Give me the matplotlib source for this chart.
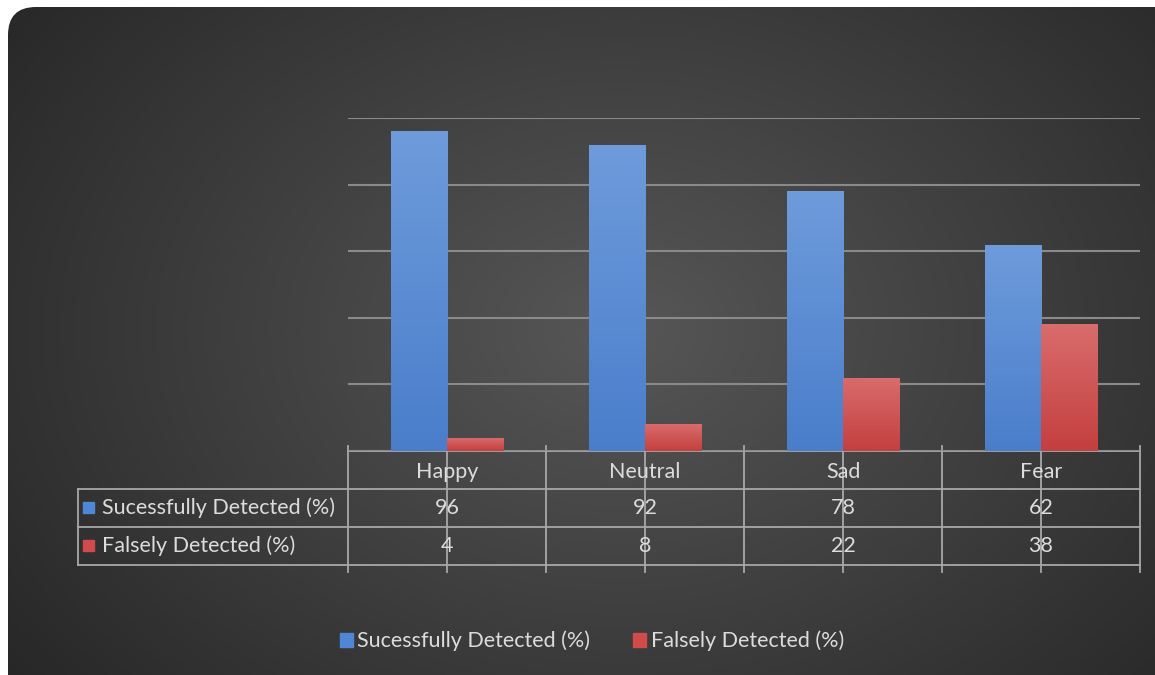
import numpy as np
import matplotlib.pyplot as plt
import matplotlib.patches as patches

categories = ['Happy', 'Neutral', 'Sad', 'Fear']
success = [96, 92, 78, 62]
false_det = [4, 8, 22, 38]
series_names = ['Sucessfully Detected (%)', 'Falsely Detected (%)']

W, H = 1155, 675
plt.rcParams['font.family'] = ['Lato', 'DejaVu Sans']
txt_color = '#dcdcdc'
fs = 15.5
fig = plt.figure(figsize=(W / 100, H / 100), dpi=100, facecolor='white')

# full-figure pixel axes for the background and the data table
bg = fig.add_axes([0, 0, 1, 1])
bg.set_xlim(0, W)
bg.set_ylim(H, 0)
bg.axis('off')

panel = patches.FancyBboxPatch((8, 7), W - 8 + 30, H - 7 + 30,
                               boxstyle='round,pad=0,rounding_size=28',
                               facecolor='none', edgecolor='none')
bg.add_patch(panel)
yy, xx = np.mgrid[0:H, 0:W]
r = np.sqrt(((xx - 620) / 700) ** 2 + ((yy - 330) / 520) ** 2)
shade = np.clip(0.34 - 0.17 * r, 0.15, 0.34)
img = bg.imshow(np.dstack([shade] * 3), extent=(0, W, H, 0), zorder=0)
img.set_clip_path(panel)

# bar chart
ax = fig.add_axes([348 / W, (H - 451) / H, (1140 - 348) / W, (451 - 118) / H])
ax.set_facecolor('none')
x = np.arange(len(categories))
bw = 0.283
for v in range(0, 101, 20):
    ax.axhline(v, color='#8a8a8a', lw=1.5, zorder=1)


def grad_bars(xs, vals, top, bottom):
    bars = ax.bar(xs, vals, bw, align='edge', color='none', zorder=2)
    grad = np.linspace(0, 1, 256).reshape(-1, 1)
    cmap = plt.matplotlib.colors.LinearSegmentedColormap.from_list('g', [bottom, top])
    for b in bars:
        x0, y0 = b.get_x(), b.get_y()
        im = ax.imshow(grad, cmap=cmap, origin='lower', aspect='auto',
                       extent=(x0, x0 + b.get_width(), y0, y0 + b.get_height()), zorder=2)
        im.set_clip_path(b)
    return bars


grad_bars(x - bw, success, '#6e9bdb', '#4a7ecb')
grad_bars(x, false_det, '#d96c6c', '#c43f3f')
ax.set_xlim(-0.5, len(categories) - 0.5)
ax.set_ylim(0, 100)
for s in ax.spines.values():
    s.set_visible(False)
ax.set_xticks([])
ax.set_yticks([])

# data table
line_c = '#a8a8a8'
col_x = [348 + 198 * i for i in range(len(categories) + 1)]
row_y = [451, 489, 527, 565]
lw = 1.3
bg.plot([col_x[0], col_x[-1]], [row_y[0], row_y[0]], color=line_c, lw=lw, zorder=3)
for yv in row_y[1:]:
    bg.plot([78, col_x[-1]], [yv, yv], color=line_c, lw=lw, zorder=3)
bg.plot([78, 78], [row_y[1], row_y[-1]], color=line_c, lw=lw, zorder=3)
for xv in col_x:
    bg.plot([xv, xv], [row_y[0] - 5, row_y[-1] + 7], color=line_c, lw=lw, zorder=3)
for i, c in enumerate(categories):
    cx = (col_x[i] + col_x[i + 1]) / 2
    bg.plot([cx, cx], [row_y[0] - 6, row_y[-1] + 7], color=line_c, lw=lw, zorder=3)
    bg.text(cx, (row_y[0] + row_y[1]) / 2 + 2, c, color=txt_color, fontsize=fs,
            ha='center', va='center', zorder=4)
    for j, vals in enumerate([success, false_det]):
        bg.text(cx, (row_y[j + 1] + row_y[j + 2]) / 2, str(vals[i]), color=txt_color,
                fontsize=fs, ha='center', va='center', zorder=4)
sq_colors = ['#4f86d6', '#d24b4b']
for j, name in enumerate(series_names):
    yc = (row_y[j + 1] + row_y[j + 2]) / 2
    bg.add_patch(patches.Rectangle((83, yc - 6), 11, 11, color=sq_colors[j], zorder=4))
    bg.text(102, yc, name, color=txt_color, fontsize=fs, ha='left', va='center', zorder=4)

# legend
handles = [patches.Patch(color=c) for c in sq_colors]
fig.legend(handles, series_names, loc='center', bbox_to_anchor=(592 / W, 1 - 641 / H),
           ncol=2, frameon=False, fontsize=fs, labelcolor=txt_color,
           handlelength=0.6, handleheight=0.6, handletextpad=0.2, columnspacing=2.0)

fig.savefig('out.png', dpi=100, facecolor='white')
